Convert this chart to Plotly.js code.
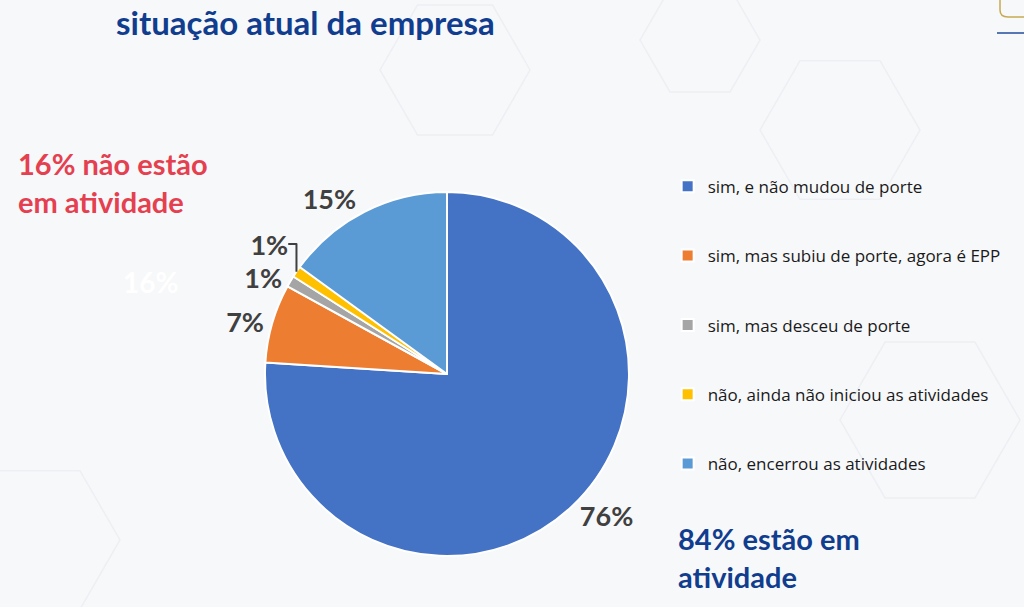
<!DOCTYPE html>
<html>
<head>
<meta charset="utf-8">
<script src="https://cdn.plot.ly/plotly-3.0.1.min.js"></script>
<style>
  html, body { margin: 0; padding: 0; background: #f7f8fa; }
  #chart { width: 1024px; height: 607px; }
</style>
</head>
<body>
<div id="chart"></div>
<script>
// situação atual da empresa -------------------------------------------
const labels = [
    'sim, e não mudou de porte',
    'sim, mas subiu de porte, agora é EPP',
    'sim, mas desceu de porte',
    'não, ainda não iniciou as atividades',
    'não, encerrou as atividades'
];
const values = [76, 7, 1, 1, 15];
const colors = ['#4472C4', '#ED7D31', '#A5A5A5', '#FFC000', '#5B9BD5'];

// taller legend rows (extra blank lines), like the spaced legend of the slide
const legendLabels = labels.map(l => l + '<br> <br> ');

const W = 1024, H = 607;
const px = x => x / W;
const py = y => 1 - y / H;

// faint hexagon pattern of the slide background
const hexCenters = [[455, 70, 75], [840, 130, 80], [930, 420, 90], [40, 540, 80], [700, 40, 60]];
const hexShapes = hexCenters.map(([cx, cy, r]) => {
    let d = '';
    for (let i = 0; i < 6; i++) {
        const a = Math.PI / 3 * i;
        d += (i ? ' L ' : 'M ') + px(cx + r * Math.cos(a)).toFixed(4) + ' ' + py(cy + r * Math.sin(a)).toFixed(4);
    }
    return {
        type: 'path', xref: 'paper', yref: 'paper', path: d + ' Z',
        line: {color: 'rgba(220,224,232,0.35)', width: 1.5}, layer: 'below'
    };
});

var trace1 = {
    type: 'pie',
    labels: legendLabels,
    values: values,
    sort: false,
    direction: 'clockwise',
    rotation: 0,
    textinfo: 'percent',
    texttemplate: '%{percent:.0%}',
    textposition: 'outside',
    outsidetextfont: {family: 'Lato, sans-serif', size: 27, color: '#404040', weight: 'bold'},
    marker: {
        colors: colors,
        line: {color: '#ffffff', width: 2}
    },
    domain: {x: [265 / W, 629 / W], y: [51 / H, 415 / H]},
    hoverinfo: 'label+percent'
};

var layout = {
    width: W,
    height: H,
    margin: {l: 0, r: 0, t: 0, b: 0},
    paper_bgcolor: '#f7f8fa',
    plot_bgcolor: '#f7f8fa',
    font: {family: 'Lato, sans-serif', color: '#222222'},
    showlegend: true,
    legend: {
        x: 0.652,
        y: 0.722,
        xanchor: 'left',
        yanchor: 'top',
        valign: 'top',
        font: {family: '"Open Sans", sans-serif', size: 17, color: '#1a1a1a'},
        bgcolor: 'rgba(0,0,0,0)'
    },
    shapes: hexShapes.concat([
        // corner of the logo, top right
        {type: 'path', xref: 'paper', yref: 'paper',
         path: `M ${px(1000)} ${py(0)} L ${px(1000)} ${py(10)} Q ${px(1000)} ${py(17)} ${px(1008)} ${py(17)} L ${px(1024)} ${py(17)}`,
         line: {color: '#C8A951', width: 1.5}},
        {type: 'line', xref: 'paper', yref: 'paper', x0: px(997), x1: px(1024), y0: py(33), y1: py(33),
         line: {color: '#1F4E9C', width: 1.5}}
    ]),
    annotations: [
        {
            text: '<b>situação atual da empresa</b>',
            xref: 'paper', yref: 'paper',
            x: px(114), y: py(22),
            xanchor: 'left', yanchor: 'middle',
            showarrow: false,
            font: {size: 33, color: '#113D8F'}
        },
        {
            text: '<b>16% não estão<br>em atividade</b>',
            xref: 'paper', yref: 'paper',
            x: px(16), y: py(182),
            xanchor: 'left', yanchor: 'middle',
            align: 'left',
            showarrow: false,
            font: {size: 29, color: '#E5404F'}
        },
        {
            text: '<b>16%</b>',
            xref: 'paper', yref: 'paper',
            x: px(150), y: py(282),
            xanchor: 'center', yanchor: 'middle',
            showarrow: false,
            font: {size: 28, color: '#ffffff'}
        },
        {
            text: '<b>84% estão em<br>atividade</b>',
            xref: 'paper', yref: 'paper',
            x: px(676), y: py(557),
            xanchor: 'left', yanchor: 'middle',
            align: 'left',
            showarrow: false,
            font: {size: 29, color: '#113D8F'}
        }
    ]
};

Plotly.newPlot('chart', [trace1], layout, {displayModeBar: false});
</script>
</body>
</html>
